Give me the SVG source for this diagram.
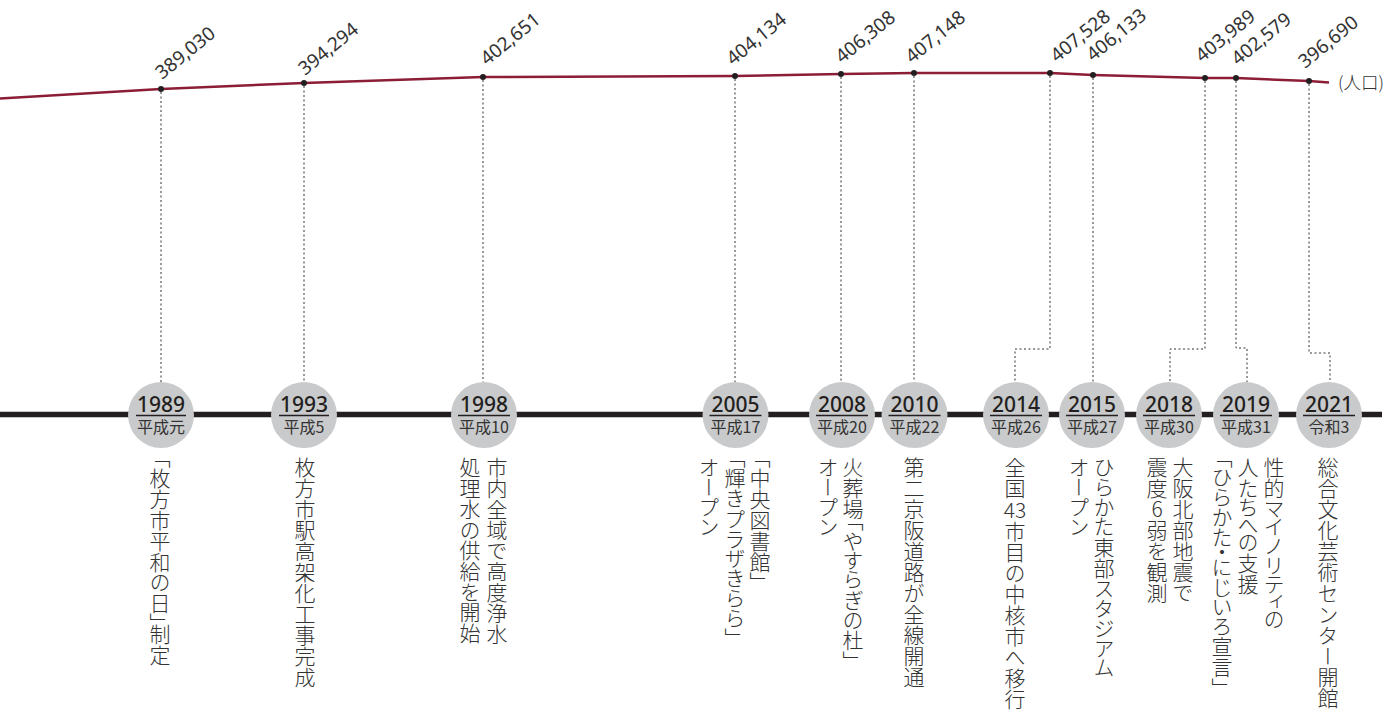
<svg xmlns="http://www.w3.org/2000/svg" width="1397" height="713" viewBox="0 0 1397 713">
<style>
.pop{font-family:"Noto Sans","Open Sans",sans-serif;font-size:19px;fill:#333}
.dot{fill:#231f20}
.lead{fill:none;stroke:#333;stroke-width:1;stroke-dasharray:2 2.5}
.circ{fill:#c9cacb}
.yr{font-family:"Noto Sans","Open Sans",sans-serif;font-size:21px;font-weight:500;fill:#231f20;text-anchor:middle}
.era{font-family:"Noto Sans CJK JP","Noto Sans",sans-serif;font-size:16px;fill:#333;text-anchor:middle}
.ul{stroke:#231f20;stroke-width:1.3}
.v{font-family:"Noto Sans CJK JP",sans-serif;font-size:21px;font-weight:300;fill:#333;writing-mode:vertical-rl;font-feature-settings:"vpal" 1}
.h{font-family:"Noto Sans CJK JP",sans-serif;font-size:21px;font-weight:300;fill:#333}
</style>
<g id="population">
<polyline points="0,98.5 161,89 304,83 483,77 735,76 841,74 914,73 1050,73 1093,75 1205,78 1236,78 1309,81 1329,82.5" fill="none" stroke="#8c1d36" stroke-width="2.5"/>
<text class="h" x="1338" y="88.5" style="font-size:17.5px">(人口)</text>
</g>
<g id="connectors">
<line class="lead" x1="161" y1="92" x2="161" y2="382"/>
<line class="lead" x1="304" y1="86" x2="304" y2="382"/>
<line class="lead" x1="483" y1="80" x2="483" y2="382"/>
<line class="lead" x1="735" y1="79" x2="735" y2="382"/>
<line class="lead" x1="841" y1="77" x2="841" y2="382"/>
<line class="lead" x1="914" y1="76" x2="914" y2="382"/>
<polyline class="lead" points="1050,76 1050,349 1015,349 1015,382"/>
<line class="lead" x1="1093" y1="78" x2="1093" y2="382"/>
<polyline class="lead" points="1205,81 1205,349 1170,349 1170,382"/>
<polyline class="lead" points="1236,81 1236,348 1247,348 1247,382"/>
<polyline class="lead" points="1309,84 1309,353 1330,353 1330,382"/>
</g>
<g id="dots">
<circle class="dot" cx="161" cy="89" r="3"/>
<circle class="dot" cx="304" cy="83" r="3"/>
<circle class="dot" cx="483" cy="77" r="3"/>
<circle class="dot" cx="735" cy="76" r="3"/>
<circle class="dot" cx="841" cy="74" r="3"/>
<circle class="dot" cx="914" cy="73" r="3"/>
<circle class="dot" cx="1050" cy="73" r="3"/>
<circle class="dot" cx="1093" cy="75" r="3"/>
<circle class="dot" cx="1205" cy="78" r="3"/>
<circle class="dot" cx="1236" cy="78" r="3"/>
<circle class="dot" cx="1309" cy="81" r="3"/>
</g>
<g id="pop-labels">
<text class="pop" transform="translate(162,80) rotate(-39)">389,030</text>
<text class="pop" transform="translate(305,76) rotate(-39)">394,294</text>
<text class="pop" transform="translate(487,66) rotate(-39)">402,651</text>
<text class="pop" transform="translate(733,66) rotate(-39)">404,134</text>
<text class="pop" transform="translate(842,64) rotate(-39)">406,308</text>
<text class="pop" transform="translate(912,64) rotate(-39)">407,148</text>
<text class="pop" transform="translate(1057,63) rotate(-39)">407,528</text>
<text class="pop" transform="translate(1093,62) rotate(-39)">406,133</text>
<text class="pop" transform="translate(1202,63) rotate(-39)">403,989</text>
<text class="pop" transform="translate(1238,66) rotate(-39)">402,579</text>
<text class="pop" transform="translate(1305,69) rotate(-39)">396,690</text>
</g>
<g id="timeline">
<line x1="0" y1="414.5" x2="1382" y2="414.5" stroke="#231f20" stroke-width="5.5"/>
</g>
<g id="y1989"><circle class="circ" cx="161" cy="415" r="33"/><text class="yr" x="161" y="412">1989</text><line class="ul" x1="136" y1="415.5" x2="186" y2="415.5"/><text class="era" x="161" y="433">平成元</text>
<text class="v" x="160" y="457">「枚方市平和の日」制定</text></g>
<g id="y1993"><circle class="circ" cx="304" cy="415" r="33"/><text class="yr" x="304" y="412">1993</text><line class="ul" x1="279" y1="415.5" x2="329" y2="415.5"/><text class="era" x="304" y="433">平成5</text>
<text class="v" x="305" y="457">枚方市駅高架化工事完成</text></g>
<g id="y1998"><circle class="circ" cx="484" cy="415" r="33"/><text class="yr" x="484" y="412">1998</text><line class="ul" x1="458" y1="415.5" x2="510" y2="415.5"/><text class="era" x="484" y="433">平成10</text>
<text class="v" x="497" y="457">市内全域で高度浄水</text><text class="v" x="470" y="457">処理水の供給を開始</text></g>
<g id="y2005"><circle class="circ" cx="735.5" cy="415" r="33"/><text class="yr" x="735.5" y="412">2005</text><line class="ul" x1="709.5" y1="415.5" x2="761.5" y2="415.5"/><text class="era" x="735.5" y="433">平成17</text>
<text class="v" x="760" y="457">「中央図書館」</text><text class="v" x="735" y="457">「輝きプラザきらら」</text><text class="v" x="709" y="457">オープン</text></g>
<g id="y2008"><circle class="circ" cx="842" cy="415" r="33"/><text class="yr" x="842" y="412">2008</text><line class="ul" x1="816" y1="415.5" x2="868" y2="415.5"/><text class="era" x="842" y="433">平成20</text>
<text class="v" x="853" y="457">火葬場「やすらぎの杜」</text><text class="v" x="828" y="457">オープン</text></g>
<g id="y2010"><circle class="circ" cx="914.5" cy="415" r="33"/><text class="yr" x="914.5" y="412">2010</text><line class="ul" x1="888.5" y1="415.5" x2="940.5" y2="415.5"/><text class="era" x="914.5" y="433">平成22</text>
<text class="v" x="914" y="457">第二京阪道路が全線開通</text></g>
<g id="y2014"><circle class="circ" cx="1016" cy="415" r="33"/><text class="yr" x="1016" y="412">2014</text><line class="ul" x1="990" y1="415.5" x2="1042" y2="415.5"/><text class="era" x="1016" y="433">平成26</text>
<text class="v" x="1015" y="457">全国</text><text class="h" x="1015" y="518" text-anchor="middle">43</text><text class="v" x="1015" y="521" style="font-feature-settings:normal">市目の中核市へ移行</text></g>
<g id="y2015"><circle class="circ" cx="1092" cy="415" r="33"/><text class="yr" x="1092" y="412">2015</text><line class="ul" x1="1066" y1="415.5" x2="1118" y2="415.5"/><text class="era" x="1092" y="433">平成27</text>
<text class="v" x="1104" y="457">ひらかた東部スタジアム</text><text class="v" x="1079" y="457">オープン</text></g>
<g id="y2018"><circle class="circ" cx="1169" cy="415" r="33"/><text class="yr" x="1169" y="412">2018</text><line class="ul" x1="1143" y1="415.5" x2="1195" y2="415.5"/><text class="era" x="1169" y="433">平成30</text>
<text class="v" x="1183" y="457">大阪北部地震で</text><text class="v" x="1157" y="457" style="text-orientation:upright;font-feature-settings:normal">震度6弱を観測</text></g>
<g id="y2019"><circle class="circ" cx="1246" cy="415" r="33"/><text class="yr" x="1246" y="412">2019</text><line class="ul" x1="1220" y1="415.5" x2="1272" y2="415.5"/><text class="era" x="1246" y="433">平成31</text>
<text class="v" x="1274" y="457">性的マイノリティの</text><text class="v" x="1248" y="457">人たちへの支援</text><text class="v" x="1222" y="457">「ひらかた・にじいろ宣言」</text></g>
<g id="y2021"><circle class="circ" cx="1329" cy="415" r="33"/><text class="yr" x="1329" y="412">2021</text><line class="ul" x1="1303" y1="415.5" x2="1355" y2="415.5"/><text class="era" x="1329" y="433">令和3</text>
<text class="v" x="1328" y="457" style="font-feature-settings:normal">総合文化芸術センター開館</text></g>
</svg>
